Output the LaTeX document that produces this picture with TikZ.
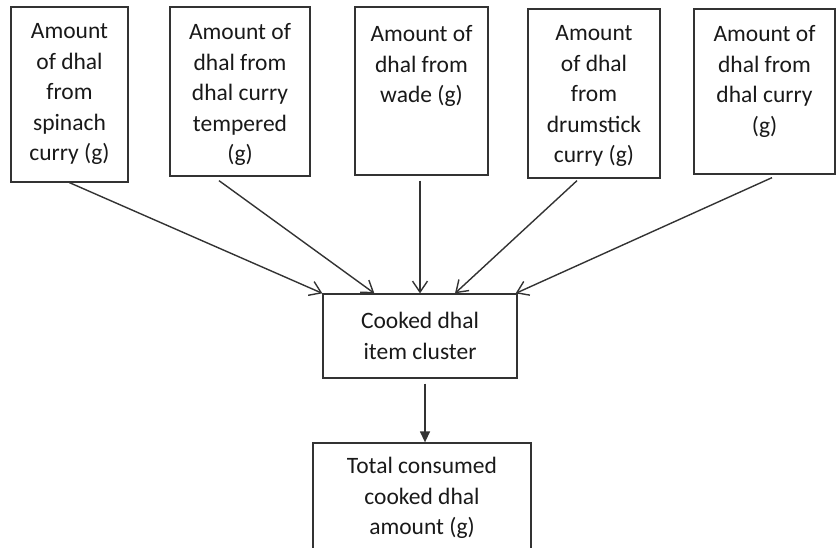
\documentclass[tikz,border=0pt]{standalone}
\usepackage{fontspec}
\setmainfont{Carlito}
\usetikzlibrary{arrows.meta,positioning}

\begin{document}
\begin{tikzpicture}[
    x=1pt,y=1pt,>={Straight Barb[length=11pt,width=15pt]},
    box/.style={rectangle,draw=black!80,line width=1.3pt,inner sep=0pt},
    words/.style={align=center,inner sep=0pt,text=black!90,
        font=\fontsize{23.5pt}{30.5pt}\selectfont},
    link/.style={->,draw=black!80,line width=1.4pt}
]
 \useasboundingbox (0,0) rectangle (837,547);

 % source boxes
 \node[box,minimum width=117pt,minimum height=175pt] (b1) at (69.5,452.5) {};
 \node[box,minimum width=140pt,minimum height=169pt] (b2) at (240,455.5) {};
 \node[box,minimum width=133pt,minimum height=168pt] (b3) at (421.5,456) {};
 \node[box,minimum width=132pt,minimum height=169pt] (b4) at (594,453.5) {};
 \node[box,minimum width=141pt,minimum height=165pt] (b5) at (764.5,455.5) {};

 \node[words,below=17pt of b1.north] (t1) {Amount\\of dhal\\from\\spinach\\curry (g)};
 \node[words,below=17pt of b2.north] (t2) {Amount of\\dhal from\\dhal curry\\tempered\\(g)};
 \node[words,below=19pt of b3.north] (t3) {Amount of\\dhal from\\wade (g)};
 \node[words,below=17pt of b4.north] (t4) {Amount\\of dhal\\from\\drumstick\\curry (g)};
 \node[words,below=17pt of b5.north] (t5) {Amount of\\dhal from\\dhal curry\\(g)};

 % cluster and total
 \node[box,words,minimum width=194pt,minimum height=84pt] (mid) at (420,211) {Cooked dhal\\item cluster};
 \node[box,minimum width=218pt,minimum height=120pt] (tot) at (422,44) {};
 \node[words,below=15pt of tot.north] (t7) {Total consumed\\cooked dhal\\amount (g)};

 \draw[link] (b1.south) -- (mid.north west);
 \draw[link] ([xshift=-21pt,yshift=-4pt]b2.south) -- ([xshift=52pt]mid.north west);
 \draw[link] ([xshift=-1.5pt,yshift=-5pt]b3.south) -- (mid.north);
 \draw[link] ([xshift=-17pt,yshift=-2pt]b4.south) -- ([xshift=35pt]mid.north);
 \draw[link] ([xshift=7.5pt,yshift=-3pt]b5.south) -- ([xshift=-2pt]mid.north east);
 \draw[link,-{Triangle[length=11pt,width=10pt]}] ([xshift=5pt,yshift=-5pt]mid.south) -- ([xshift=3pt]tot.north);
\end{tikzpicture}
\end{document}
